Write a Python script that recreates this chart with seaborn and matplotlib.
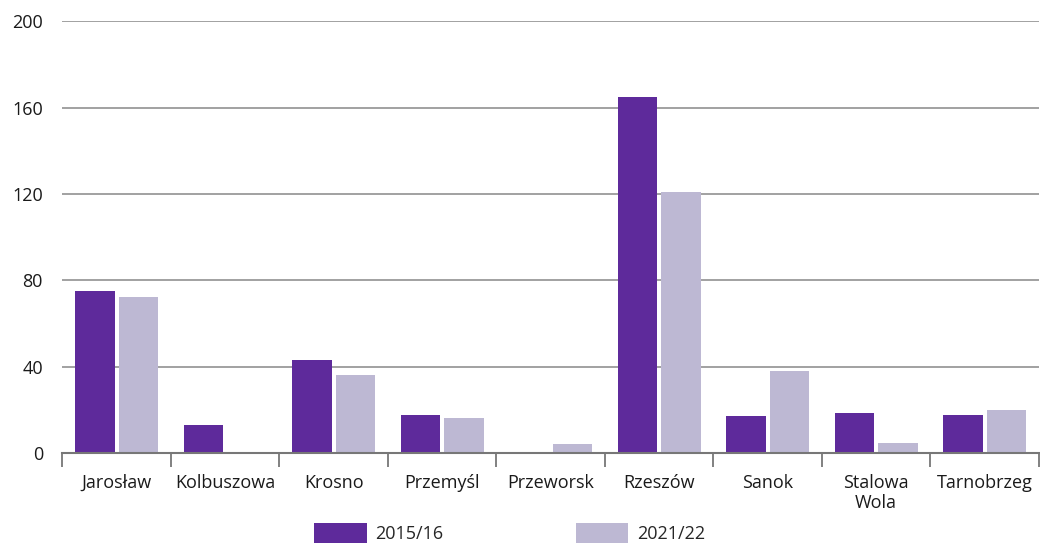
import seaborn as sns
import matplotlib.pyplot as plt
import pandas as pd

# counts per district, two school years
districts = ['Jarosław', 'Kolbuszowa', 'Krosno', 'Przemyśl', 'Przeworsk',
             'Rzeszów', 'Sanok', 'Stalowa\nWola', 'Tarnobrzeg']
y2015 = [75, 13, 43, 17.5, 0.5, 165, 17, 18.5, 17.5]
y2021 = [72, 0, 36, 16, 4, 121, 38, 4.5, 20]
years = ['2015/16', '2021/22']
colors = ['#5E2A9B', '#BDB8D3']

df = pd.DataFrame({
    'district': districts * 2,
    'value': y2015 + y2021,
    'year': [years[0]] * len(districts) + [years[1]] * len(districts),
})

sns.set_style('white')
plt.rcParams['font.family'] = ['Open Sans', 'DejaVu Sans']

fig = plt.figure(figsize=(10.4, 5.43), dpi=100)
ax = fig.add_axes([0.06, 0.166, 0.939, 0.795])

sns.barplot(data=df, x='district', y='value', hue='year', palette=colors,
            width=0.8, gap=0.09, saturation=1, linewidth=0, ax=ax, legend=True)

ax.set_xlim(-0.5, len(districts) - 0.5)
ax.set_ylim(0, 200)
ax.set_yticks([0, 40, 80, 120, 160, 200])
ax.yaxis.grid(True, color='#9a9a9a', linewidth=1.3)
ax.set_axisbelow(True)
ax.set_xlabel('')
ax.set_ylabel('')

# labels at category centres, tick marks at the boundaries
ax.set_xticks([i - 0.5 for i in range(len(districts) + 1)])
ax.set_xticklabels([])
ax.set_xticks(range(len(districts)), minor=True)
ax.set_xticklabels(districts, minor=True)
ax.tick_params(axis='x', which='major', length=10, width=1.3, color='#777777', direction='out', bottom=True)
ax.tick_params(axis='x', which='minor', length=0, pad=15, labelsize=13, labelcolor='#1a1a1a')
ax.tick_params(axis='y', length=0, pad=14, labelsize=13, labelcolor='#1a1a1a')

for s in ['top', 'right', 'left']:
    ax.spines[s].set_visible(False)
ax.spines['bottom'].set_color('#777777')
ax.spines['bottom'].set_linewidth(1.5)

handles, labels = ax.get_legend_handles_labels()
ax.get_legend().remove()
fig.legend(handles, labels, loc='lower center', bbox_to_anchor=(0.49, -0.03),
           ncol=2, frameon=False, fontsize=13, handlelength=2.9, handleheight=1.25,
           columnspacing=7.3, handletextpad=0.5)

fig.savefig('out.png', dpi=100)
